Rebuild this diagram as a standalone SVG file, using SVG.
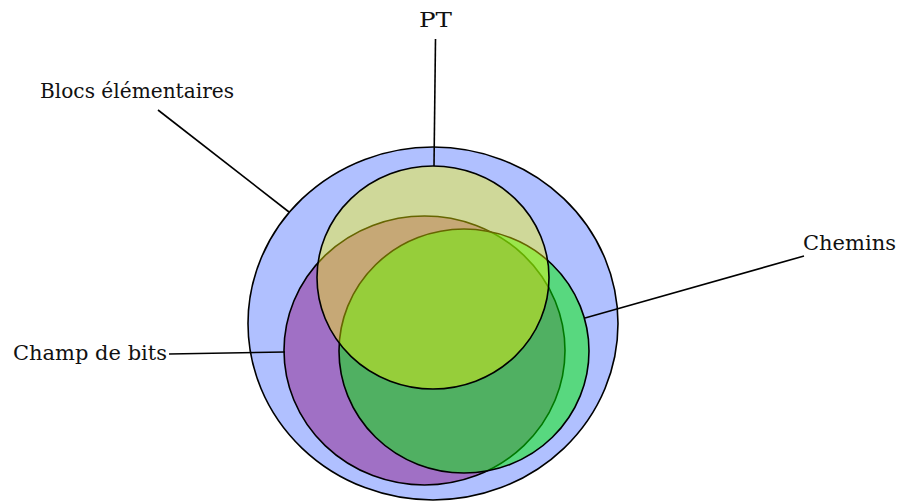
<svg xmlns="http://www.w3.org/2000/svg" width="898" height="501" viewBox="0 0 898 501">
  <style>
    .set { stroke: #000; stroke-width: 1.6; }
    .lead { stroke: #000; stroke-width: 1.6; fill: none; }
    .lbl { font-family: "DejaVu Serif", "Liberation Serif", serif; font-size: 20.5px; fill: #111; }
  </style>
  <rect width="898" height="501" fill="#fff"/>
  <g id="blocs-elementaires">
    <ellipse class="set" cx="433" cy="323.5" rx="185" ry="176.5" fill="#b0c0ff"/>
  </g>
  <g id="champ-de-bits">
    <ellipse class="set" cx="424.5" cy="350.5" rx="140.5" ry="134.5" fill="#a070c5"/>
  </g>
  <g id="chemins">
    <ellipse class="set" cx="464" cy="351" rx="125" ry="122" fill="#00f000" fill-opacity="0.5"/>
  </g>
  <g id="pt">
    <ellipse class="set" cx="433" cy="277.5" rx="116" ry="111.5" fill="#fffc00" fill-opacity="0.4"/>
  </g>
  <g id="connectors">
    <line class="lead" x1="435.5" y1="39" x2="434" y2="166"/>
    <line class="lead" x1="158" y1="110" x2="289" y2="212"/>
    <line class="lead" x1="804" y1="256" x2="585" y2="318"/>
    <line class="lead" x1="169" y1="354" x2="285" y2="352"/>
  </g>
  <g id="labels">
    <text class="lbl" x="419" y="27" textLength="33" lengthAdjust="spacingAndGlyphs">PT</text>
    <text class="lbl" x="40" y="98" textLength="194" lengthAdjust="spacingAndGlyphs">Blocs élémentaires</text>
    <text class="lbl" x="803" y="250" textLength="93" lengthAdjust="spacingAndGlyphs">Chemins</text>
    <text class="lbl" x="13" y="360" textLength="154" lengthAdjust="spacingAndGlyphs">Champ de bits</text>
  </g>
</svg>
